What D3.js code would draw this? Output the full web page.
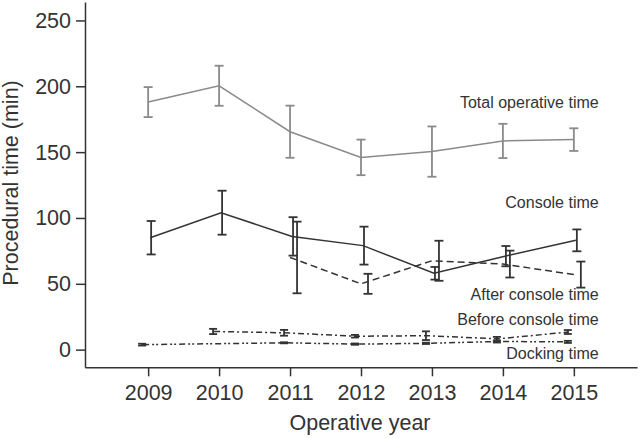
<!DOCTYPE html>
<html><head><meta charset="utf-8">
<script src="https://cdn.jsdelivr.net/npm/d3@7/dist/d3.min.js"></script>
<style>
body{margin:0;background:#fff}
text{font-family:"Liberation Sans",Arial,sans-serif}
</style>
</head><body>
<svg id="c" width="638" height="438"></svg>
<script>
// ---- data ----
const years = [2009, 2010, 2011, 2012, 2013, 2014, 2015];
const totalMean   = [188, 200.4, 165.5, 146, 150.4, 158.5, 159.5];
const totalErr    = [11.4, 15.2, 19.8, 13.5, 19.1, 13, 8.6];
const consoleMean = [85, 104, 86, 79, 58, 71, 83];
const consoleErr  = [12.7, 16.7, 14.6, 14.4, 4.8, 7.7, 8.3];
const afterMean   = [null, null, 70, 50, 67.5, 65, 57];
const afterErr    = [null, null, 27.2, 7.6, 15.2, 10.2, 9.9];
const beforeMean  = [null, 13.8, 12.8, 10.2, 10.6, 8.2, 13.4];
const beforeErr   = [null, 2, 2.2, 1, 3.3, 1.5, 1.5];
const dockingMean = [3.8, null, 5.2, 4.2, 4.8, 6.2, 5.9];
const dockingErr  = [0.7, null, 0.4, 0.5, 0.5, 0.8, 0.8];
const yTicks = [0, 50, 100, 150, 200, 250];
const seriesNames = ["Total operative time", "Console time", "After console time", "Before console time", "Docking time"];
const xTitle = "Operative year";
const yTitle = "Procedural time (min)";

// ---- styles ----
const styles = [
  {mean: totalMean,   err: totalErr,   color: "#8a8a8a", dash: null,          lineDx: 0,  barDx: 0,  cap: 4.5, labelAt: [2015.35, 183.7]},
  {mean: consoleMean, err: consoleErr, color: "#333",    dash: null,          lineDx: 2,  barDx: 3,  cap: 4.5, labelAt: [2015.35, 107.7]},
  {mean: afterMean,   err: afterErr,   color: "#333",    dash: "7,4",         lineDx: 0,  barDx: 7,  cap: 4.5, labelAt: [2015.35, 37.8]},
  {mean: beforeMean,  err: beforeErr,  color: "#333",    dash: "6,3,2,3",     lineDx: -5, barDx: -6, cap: 4,   labelAt: [2015.35, 18.8]},
  {mean: dockingMean, err: dockingErr, color: "#333",    dash: "6,3,2,2,2,3", lineDx: -5, barDx: -6, cap: 4,   labelAt: [2015.35, -7.1]}
];

const svg = d3.select("#c");
const x = d3.scaleLinear().domain([2008.11, 2015.89]).range([85, 637]);
const y = d3.scaleLinear().domain([-13.4, 264]).range([367.3, 2]);
const textColor = "#333";
const fs = "21.5px";

// axes
const gx = svg.append("g").attr("transform", `translate(0,${y.range()[0]})`)
  .call(d3.axisBottom(x).tickValues(years).tickFormat(d3.format("d")).tickSize(9).tickPadding(8).tickSizeOuter(0));
const gy = svg.append("g").attr("transform", `translate(${x.range()[0]},0)`)
  .call(d3.axisLeft(y).tickValues(yTicks).tickSize(9).tickPadding(5).tickSizeOuter(0));
[gx, gy].forEach(g => {
  g.select(".domain").attr("stroke", textColor).attr("stroke-width", 1.5);
  g.selectAll(".tick line").attr("stroke", textColor).attr("stroke-width", 1.5);
  g.selectAll(".tick text").attr("fill", textColor).style("font-size", fs)
    .style("font-family", "'Liberation Sans', Arial, sans-serif");
});

// titles
svg.append("text").attr("x", 360).attr("y", 430).attr("text-anchor", "middle")
  .attr("fill", textColor).style("font-size", fs).text(xTitle);
svg.append("text").attr("transform", "translate(17.5,183) rotate(-90)").attr("text-anchor", "middle")
  .attr("fill", textColor).style("font-size", fs).text(yTitle);

// series
styles.forEach((s, i) => {
  const pts = years.map((yr, j) => ({yr, m: s.mean[j], e: s.err[j]})).filter(d => d.m != null);
  const line = d3.line().x(d => x(d.yr) + s.lineDx).y(d => y(d.m));
  svg.append("path").datum(pts).attr("d", line).attr("fill", "none")
    .attr("stroke", s.color).attr("stroke-width", 1.5)
    .attr("stroke-dasharray", s.dash);
  const g = svg.append("g").attr("stroke", s.color).attr("stroke-width", 1.8);
  pts.filter(d => d.e != null).forEach(d => {
    const cx = x(d.yr) + s.barDx;
    const y1 = y(d.m + d.e), y2 = y(d.m - d.e);
    g.append("line").attr("x1", cx).attr("x2", cx).attr("y1", y1).attr("y2", y2);
    g.append("line").attr("x1", cx - s.cap).attr("x2", cx + s.cap).attr("y1", y1).attr("y2", y1);
    g.append("line").attr("x1", cx - s.cap).attr("x2", cx + s.cap).attr("y1", y2).attr("y2", y2);
  });
  svg.append("text").attr("x", x(s.labelAt[0])).attr("y", y(s.labelAt[1]))
    .attr("text-anchor", "end").attr("fill", textColor).style("font-size", "16px")
    .text(seriesNames[i]);
});
</script>
</body></html>
